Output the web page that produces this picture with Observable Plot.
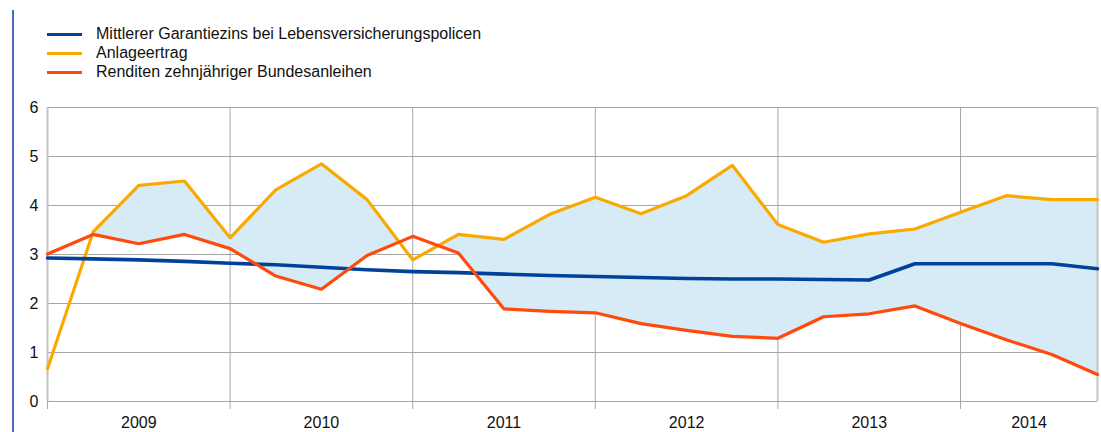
<!DOCTYPE html>
<html>
<head>
<meta charset="utf-8">
<script src="https://cdn.jsdelivr.net/npm/d3@7"></script>
<script src="https://cdn.jsdelivr.net/npm/@observablehq/plot@0.6"></script>
<style>
  html, body { margin: 0; padding: 0; background: #fff; }
  body { width: 1101px; height: 432px; position: relative; overflow: hidden; font-family: "Liberation Sans", Arial, sans-serif; }
  #bar { position: absolute; left: 12px; top: 10px; width: 1.5px; height: 422px; background: #4a6cbd; }
  #legend { position: absolute; left: 0; top: 0; }
  .item { position: absolute; left: 47px; height: 20px; display: flex; align-items: center; white-space: nowrap; font-size: 16px; color: #111; }
  .swatch { width: 35px; height: 3px; margin-right: 14px; }
  #chart { position: absolute; left: 0; top: 90px; }
</style>
</head>
<body>
<div id="bar"></div>
<div id="legend"></div>
<div id="chart"></div>
<script>
// ---- data (quarterly, 2009 Q1 ... 2014) ----
const years = ["2009", "2010", "2011", "2012", "2013", "2014"];
const seriesNames = [
  "Mittlerer Garantiezins bei Lebensversicherungspolicen",
  "Anlageertrag",
  "Renditen zehnjähriger Bundesanleihen"
];
const seriesColors = ["#00429a", "#f8aa00", "#ff4a0c"];
const garantiezins = [2.93, 2.91, 2.89, 2.86, 2.82, 2.79, 2.74, 2.69, 2.65, 2.63, 2.60, 2.57,
                      2.55, 2.53, 2.51, 2.50, 2.50, 2.49, 2.48, 2.81, 2.81, 2.81, 2.81, 2.71];
const anlageertrag = [0.67, 3.46, 4.41, 4.50, 3.34, 4.32, 4.85, 4.12, 2.89, 3.41, 3.31, 3.82,
                      4.17, 3.83, 4.20, 4.82, 3.61, 3.25, 3.42, 3.52, 3.86, 4.20, 4.12, 4.12];
const renditen = [3.01, 3.41, 3.22, 3.41, 3.12, 2.56, 2.29, 2.98, 3.37, 3.03, 1.89, 1.84,
                  1.81, 1.59, 1.45, 1.33, 1.29, 1.73, 1.79, 1.95, 1.59, 1.26, 0.96, 0.55];
const yTicks = [0, 1, 2, 3, 4, 5, 6];

// ---- table built from the arrays ----
const data = garantiezins.map((g, i) => ({i, g, a: anlageertrag[i], r: renditen[i]}));
const n = data.length;
const yearStarts = years.map((_, k) => k * 4);               // first quarter index of each year
const yearEnds = years.map((_, k) => Math.min(k * 4 + 4, n - 1));
const yearMid = years.map((_, k) => (yearStarts[k] + yearEnds[k]) / 2);

// ---- legend ----
const legend = document.getElementById("legend");
seriesNames.forEach((name, k) => {
  const d = document.createElement("div");
  d.className = "item";
  d.style.top = (24 + k * 19) + "px";
  d.innerHTML = `<span class="swatch" style="background:${seriesColors[k]}"></span><span>${name}</span>`;
  legend.appendChild(d);
});

const fillColor = "#d6ebf6";
const fillMark = Plot.differenceY
  ? Plot.differenceY(data, {x: "i", y1: "r", y2: "a", positiveFill: fillColor, negativeFill: "none",
                            fillOpacity: 1, positiveFillOpacity: 1, negativeFillOpacity: 0, stroke: "none"})
  : Plot.areaY(data, {x: "i", y1: "r", y2: d => Math.max(d.a, d.r), fill: fillColor});

const chart = Plot.plot({
  width: 1101,
  height: 342,
  marginLeft: 47,
  marginRight: 4,
  marginTop: 17,
  marginBottom: 31,
  style: {fontFamily: "'Liberation Sans', Arial, sans-serif", fontSize: "16px", color: "#111", background: "transparent", overflow: "visible"},
  x: {domain: [0, n - 1]},
  y: {domain: [0, 6]},
  marks: [
    Plot.ruleY(yTicks, {stroke: "#a6a6a6", strokeWidth: 1}),
    Plot.ruleX(yearStarts.slice(1), {y1: 0, y2: 6, stroke: "#a6a6a6", strokeWidth: 1}),
    fillMark,
    Plot.ruleX([0, n - 1], {y1: 0, y2: 6, stroke: "#c4c4c4", strokeWidth: 2}),
    Plot.axisX(yearStarts, {tickSize: 8, tickFormat: () => "", stroke: "#a6a6a6", label: null}),
    Plot.axisX(yearMid, {tickSize: 0, tickPadding: 15, tickFormat: (d, k) => years[k], label: null, fontSize: 16}),
    Plot.axisY(yTicks, {tickSize: 0, tickPadding: 9, label: null, fontSize: 16}),
    Plot.line(data, {x: "i", y: "a", stroke: seriesColors[1], strokeWidth: 3.2}),
    Plot.line(data, {x: "i", y: "g", stroke: seriesColors[0], strokeWidth: 3.6}),
    Plot.line(data, {x: "i", y: "r", stroke: seriesColors[2], strokeWidth: 3.2})
  ]
});
document.getElementById("chart").appendChild(chart);
</script>
</body>
</html>
